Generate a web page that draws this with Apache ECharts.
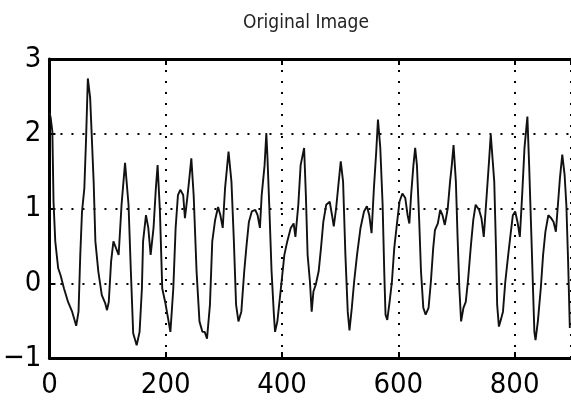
<!DOCTYPE html>
<html>
<head>
<meta charset="utf-8">
<script src="https://cdn.jsdelivr.net/npm/echarts@6/dist/echarts.min.js"></script>
<style>
  html, body { margin: 0; padding: 0; background: #fff; }
  #chart { width: 571px; height: 402px; }
</style>
</head>
<body>
<div id="chart"></div>
<script>
// sample index and amplitude
var xs = [0, 2, 5, 7, 10, 15, 19, 25, 32, 39, 46, 50, 53, 56, 60, 63, 66, 70, 76, 79,
  84, 90, 96, 99, 102, 106, 110, 113, 119, 124, 130, 136, 140, 144, 150, 155, 159, 161, 166, 170,
  174, 179, 183, 186, 190, 194, 199, 204, 208, 213, 217, 221, 225, 230, 233, 237, 240, 244, 248, 253,
  258, 263, 267, 271, 276, 280, 285, 290, 294, 298, 302, 308, 313, 317, 321, 325, 330, 335, 339, 343,
  348, 354, 358, 362, 365, 370, 373, 375, 378, 382, 386, 388, 392, 398, 404, 409, 415, 420, 423, 428,
  432, 438, 441, 444, 448, 451, 454, 458, 463, 467, 471, 476, 482, 486, 489, 493, 497, 501, 505, 509,
  513, 516, 520, 524, 529, 535, 541, 546, 550, 554, 558, 562, 565, 569, 573, 576, 578, 581, 585, 589,
  593, 598, 602, 607, 612, 616, 619, 622, 626, 629, 632, 636, 639, 643, 647, 652, 656, 660, 663, 668,
  672, 676, 680, 685, 689, 692, 695, 699, 702, 705, 708, 712, 716, 720, 725, 729, 733, 739, 743, 747,
  752, 756, 759, 762, 765, 768, 770, 773, 777, 780, 784, 789, 793, 797, 801, 805, 809, 813, 817, 822,
  825, 829, 832, 834, 836, 840, 845, 849, 853, 858, 863, 867, 871, 874, 878, 882, 886, 889, 892, 895];
var ys = [2.28, 2.22, 2.03, 1.09, 0.56, 0.2, 0.11, -0.07, -0.25, -0.38, -0.57, -0.38, 0.38, 0.96, 1.27, 1.94, 2.74, 2.48, 1.36, 0.56,
  0.16, -0.16, -0.27, -0.36, -0.25, 0.29, 0.56, 0.56, 0.38, 1.05, 1.61, 1.05, 0.16, -0.67, -0.83, -0.65, -0.07, 0.56, 0.91, 0.74,
  0.38, 0.74, 1.27, 1.58, 0.96, -0.07, -0.25, -0.47, -0.65, -0.07, 0.74, 1.18, 1.25, 1.18, 0.87, 1.14, 1.36, 1.67, 1.18, 0.16,
  -0.51, -0.65, -0.65, -0.74, -0.29, 0.56, 0.85, 1.02, 0.91, 0.74, 1.27, 1.76, 1.36, 0.6, -0.29, -0.51, -0.38, 0.16, 0.51, 0.82,
  0.96, 0.98, 0.91, 0.74, 1.18, 1.58, 2.01, 1.67, 1.05, 0.16, -0.42, -0.65, -0.51, -0.07, 0.38, 0.56, 0.74, 0.8, 0.62, 1.05,
  1.58, 1.81, 1.18, 0.38, 0.02, -0.38, -0.11, -0.02, 0.16, 0.47, 0.82, 1.05, 1.09, 0.91, 0.76, 1.0, 1.32, 1.63, 1.36, 0.38,
  -0.38, -0.63, -0.33, 0.02, 0.38, 0.74, 0.96, 1.03, 0.91, 0.67, 1.27, 1.76, 2.19, 1.81, 1.05, 0.1, -0.42, -0.49, -0.25, 0.02,
  0.47, 0.82, 1.09, 1.2, 1.14, 0.91, 0.8, 1.18, 1.58, 1.81, 1.58, 0.82, 0.16, -0.33, -0.42, -0.33, 0.02, 0.47, 0.71, 0.8,
  0.98, 0.91, 0.78, 1.0, 1.36, 1.58, 1.85, 1.36, 0.6, -0.07, -0.51, -0.33, -0.25, 0.05, 0.52, 0.85, 1.05, 0.98, 0.87, 0.62,
  1.18, 1.63, 1.99, 1.99, 1.36, 0.47, -0.29, -0.58, -0.47, -0.38, 0.02, 0.38, 0.65, 0.91, 0.96, 0.82, 0.62, 1.18, 1.81, 2.23,
  1.58, 0.6, -0.16, -0.65, -0.76, -0.51, -0.07, 0.38, 0.69, 0.91, 0.87, 0.82, 0.69, 1.0, 1.41, 1.72, 1.45, 1.05, 0.3, -0.6];
var xTicks = [0, 200, 400, 600, 800];
var yTicks = [-1, 0, 1, 2, 3];

var narrow = "'Liberation Sans Narrow', 'DejaVu Sans Condensed', 'Liberation Sans', sans-serif";
var dotted = { type: [2, 9], width: 2, color: '#000' };
var frame = { show: true, onZero: false, lineStyle: { color: '#000', width: 3 } };
var inTick = { show: true, inside: true, length: 6, lineStyle: { color: '#000', width: 2 } };

var chart = echarts.init(document.getElementById('chart'));
chart.setOption({
  animation: false,
  backgroundColor: '#fff',
  title: {
    text: 'Original Image',
    left: 301,
    top: 9,
    textAlign: 'center',
    textStyle: { fontFamily: narrow, fontSize: 19, fontWeight: 'normal', color: '#222' }
  },
  grid: { left: 49, right: -2, top: 59, bottom: 44, containLabel: false },
  xAxis: [{
    type: 'value',
    position: 'bottom',
    min: xTicks[0],
    max: 897,
    interval: xTicks[1] - xTicks[0],
    axisLine: frame,
    axisTick: inTick,
    splitLine: { show: true, lineStyle: dotted },
    axisLabel: {
      fontFamily: narrow, fontSize: 29, color: '#000', margin: 13,
      showMaxLabel: false,
      formatter: function (v) { return xTicks.indexOf(v) >= 0 ? String(v) : ''; }
    }
  }, {
    type: 'value',
    position: 'top',
    min: xTicks[0],
    max: 897,
    interval: xTicks[1] - xTicks[0],
    axisLine: frame,
    axisTick: inTick,
    splitLine: { show: false },
    axisLabel: { show: false }
  }],
  yAxis: {
    type: 'value',
    min: yTicks[0],
    max: yTicks[yTicks.length - 1],
    interval: 1,
    axisLine: frame,
    axisTick: inTick,
    splitLine: { show: true, lineStyle: dotted },
    axisLabel: {
      fontFamily: narrow, fontSize: 29, color: '#000', margin: 8,
      formatter: function (v) { return v < 0 ? '\u2212' + Math.abs(v) : String(v); }
    }
  },
  series: [{
    type: 'line',
    xAxisIndex: 0,
    data: xs.map(function (x, i) { return [x, ys[i]]; }),
    showSymbol: false,
    lineStyle: { color: '#111', width: 1.9 },
    z: 3
  }]
});
</script>
</body>
</html>
